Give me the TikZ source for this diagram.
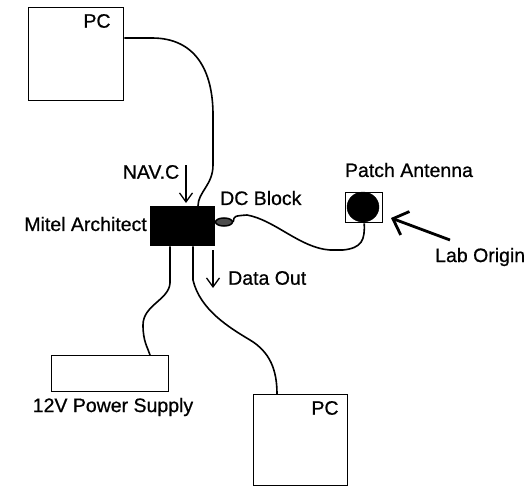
\documentclass[tikz,border=0pt]{standalone}
\usepackage{fontspec}
\setmainfont{Liberation Sans}
\newfontfamily\lblfont[FakeBold=0.7]{Liberation Sans}
\usetikzlibrary{arrows.meta,calc,shapes.geometric}
\begin{document}
\begin{tikzpicture}[x=1pt,y=-1pt,
  box/.style={draw=black,line width=1.4pt,fill=white,inner sep=0pt,anchor=north west},
  lbl/.style={font=\lblfont\fontsize{19.5}{22}\selectfont,inner sep=0pt},
  cable/.style={draw=black,line width=1.6pt},
  thinarrow/.style={draw=black,line width=1.3pt,-{Straight Barb[length=9pt,width=13pt,line width=1.3pt]}},
  bigarrow/.style={draw=black,line width=2.8pt,-{Straight Barb[length=13pt,width=25pt,line width=2.8pt]}}]
\useasboundingbox (0,0) rectangle (530,487);
% boxes
\node[box,minimum width=95pt,minimum height=93pt] (pc1) at (28,7) {};
\node[box,minimum width=94pt,minimum height=91pt] (pc2) at (253,394) {};
\node[box,minimum width=117pt,minimum height=36pt] (psu) at (51,355) {};
\node[box,fill=black,minimum width=64pt,minimum height=39pt] (mitel) at (150,206) {};
\node[box,minimum width=37pt,minimum height=30pt] (ant) at (345,192) {};
\node[draw=black,fill=black,ellipse,minimum width=32pt,minimum height=30pt,inner sep=0pt] (patch) at (363,207) {};
\node[draw=black,line width=1.5pt,fill=black!70,ellipse,minimum width=17pt,minimum height=8pt,inner sep=0pt] (dcb) at (224,222) {};
% labels
\node[lbl] (pc1l) at (97,21) {PC};
\node[lbl] (pc2l) at (325,408) {PC};
\node[lbl,anchor=east] (mitl) at (147,224) {Mitel Architect};
\node[lbl] (navl) at (151,172) {NAV.C};
\node[lbl,anchor=west] (dcl) at (220,198) {DC Block};
\node[lbl] (patl) at (409,170) {Patch Antenna};
\node[lbl,anchor=west] (labl) at (435,257) {Lab Origin};
\node[lbl,anchor=west] (datl) at (228,278) {Data Out};
\node[lbl] (psul) at (113,407) {12V Power Supply};
% connector end points
\coordinate (navs) at (186,165);
\coordinate (nave) at (186,203);
\coordinate (dats) at (213,250);
\coordinate (date) at (213,288);
\coordinate (labs) at (450,240);
\coordinate (labe) at (391,218);
% cables
\draw[cable] ($(pc1.north east)+(0,31)$) -- (152,38)
  .. controls (195,38) and (213,70) .. (213,115) -- (213,165)
  .. controls (213,185) and (198,192) .. ($(mitel.north west)+(48,0)$);
\draw[cable] ($(mitel.south west)+(20,0)$) -- (170,283)
  .. controls (169,300) and (143,305) .. (143,325)
  .. controls (143,342) and (148,348) .. ($(psu.north west)+(99,0)$);
\draw[cable] ($(mitel.south west)+(43,0)$) -- (193,280)
  .. controls (200,310) and (230,328) .. (250,340)
  .. controls (270,352) and (277,370) .. ($(pc2.north west)+(24,0)$);
\draw[cable] (dcb.east) .. controls (234,216) .. (247,215)
  .. controls (275,220) and (300,248) .. (330,250) -- (343,250)
  .. controls (362,248) and (365,240) .. (ant.south);
% arrows
\draw[thinarrow] (navs) -- (nave);
\draw[thinarrow] (dats) -- (date);
\draw[bigarrow] (labs) -- (labe);
\end{tikzpicture}
\end{document}
